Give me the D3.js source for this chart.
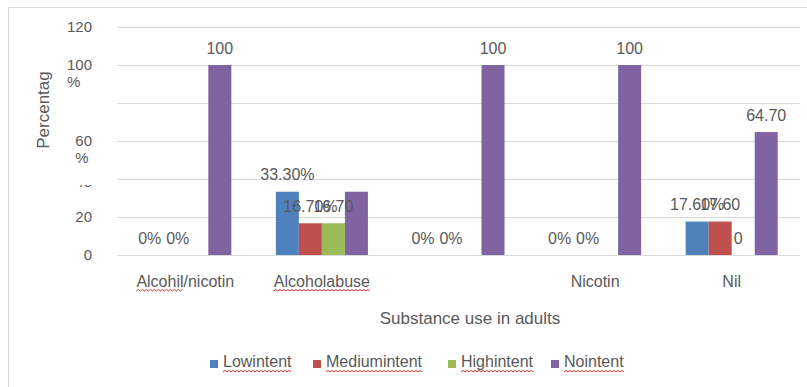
<!DOCTYPE html>
<html>
<head>
<meta charset="utf-8">
<script src="https://cdn.jsdelivr.net/npm/d3@7"></script>
<style>
  html, body { margin: 0; padding: 0; background: #fff; }
  svg { display: block; font-family: "Liberation Sans", Arial, sans-serif; }
</style>
</head>
<body>
<svg id="chart" width="807" height="387"></svg>
<script>
// Substance use categories (third category carries no visible label)
const categories = ["Alcohil/nicotin", "Alcoholabuse", "", "Nicotin", "Nil"];
const seriesNames = ["Lowintent", "Mediumintent", "Highintent", "Nointent"];
const seriesColors = ["#4F81BD", "#C0504D", "#9BBB59", "#8064A2"];

// Percentages per series
const lowIntent    = [0, 33.3, 0, 0, 17.6];
const mediumIntent = [0, 16.7, 0, 0, 17.6];
const highIntent   = [0, 16.7, 0, 0, 0];
const noIntent     = [100, 33.3, 100, 100, 64.7];

// Data labels as printed above each bar ("" = no label)
const lowLabels    = ["0%", "33.30%", "0%", "0%", "17.60%"];
const mediumLabels = ["0%", "16.70%", "0%", "0%", "17.60"];
const highLabels   = ["", "16.70", "", "", "0"];
const noLabels     = ["100", "", "100", "100", "64.70"];

// Y axis ticks and their printed text (lines split on "\n")
const yTicks      = [0, 20, 40, 60, 80, 100, 120];
const yTickLabels = ["0", "20", "40", "60\n%", "", "100\n%", "120"];

const allValues = [lowIntent, mediumIntent, highIntent, noIntent];
const allLabels = [lowLabels, mediumLabels, highLabels, noLabels];

const textColor = "#595959";
const gridColor = "#d9d9d9";

const svg = d3.select("#chart");

// Outer chart frame
svg.append("rect")
  .attr("x", 8.5).attr("y", 7.5)
  .attr("width", 900).attr("height", 500)
  .attr("fill", "#fff")
  .attr("stroke", gridColor);

const plot = { left: 117, right: 800, top: 27, bottom: 255 };

const x0 = d3.scaleBand()
  .domain(d3.range(categories.length))
  .range([plot.left, plot.right])
  .padding(0);

const bw = x0.bandwidth();
const x1 = d3.scaleBand()
  .domain(seriesNames)
  .range([bw * 0.163, bw * 0.837])
  .padding(0);

const y = d3.scaleLinear().domain([0, 120]).range([plot.bottom, plot.top]);

// Gridlines
svg.append("g")
  .selectAll("line")
  .data(yTicks)
  .join("line")
  .attr("x1", plot.left).attr("x2", plot.right)
  .attr("y1", d => Math.round(y(d)) + 0.5)
  .attr("y2", d => Math.round(y(d)) + 0.5)
  .attr("stroke", gridColor)
  .attr("stroke-width", 1);

// Y tick labels
const defs = svg.append("defs");
defs.append("clipPath").attr("id", "clip40")
  .append("rect").attr("x", 0).attr("y", 185).attr("width", 110).attr("height", 4);

const tickG = svg.append("g")
  .attr("font-size", 15)
  .attr("fill", textColor);

yTicks.forEach((t, i) => {
  const lines = yTickLabels[i].split("\n");
  if (!lines[0]) return;
  const first = tickG.append("text")
    .attr("x", 92)
    .attr("y", y(t) + (t === 40 ? 3 : 0))
    .attr("dy", "0.35em")
    .attr("text-anchor", "end")
    .text(lines[0]);
  if (t === 40) first.attr("clip-path", "url(#clip40)");
  if (lines.length > 1) {
    const w = first.node().getComputedTextLength();
    tickG.append("text")
      .attr("x", 92 - w)
      .attr("y", y(t) + 17)
      .attr("dy", "0.35em")
      .attr("text-anchor", "start")
      .text(lines[1]);
  }
});

// Bars
const groups = svg.append("g")
  .selectAll("g")
  .data(categories.map((c, i) => i))
  .join("g")
  .attr("transform", i => `translate(${x0(i)},0)`);

groups.selectAll("rect")
  .data(i => seriesNames.map((s, k) => ({ s, k, v: allValues[k][i] })))
  .join("rect")
  .attr("x", d => x1(d.s))
  .attr("width", x1.bandwidth())
  .attr("y", d => y(d.v))
  .attr("height", d => y(0) - y(d.v))
  .attr("fill", d => seriesColors[d.k]);

// Zero-height labels are nudged apart so neighbouring "0%" texts don't collide
function labelNudge(d) {
  if (d.v !== 0) return 0;
  if (d.k === 1) return 4;
  if (d.k === 2) return -5;
  return -1;
}

// Data labels
groups.selectAll("text")
  .data(i => seriesNames.map((s, k) => ({ s, k, v: allValues[k][i], label: allLabels[k][i] }))
    .filter(d => d.label !== ""))
  .join("text")
  .attr("x", d => x1(d.s) + x1.bandwidth() / 2 + labelNudge(d))
  .attr("y", d => y(d.v) - 17)
  .attr("dy", "0.35em")
  .attr("text-anchor", "middle")
  .attr("font-size", 16)
  .attr("fill", textColor)
  .text(d => d.label);

// Red wavy spell-check underline
function squiggle(x0p, x1p, yb) {
  let d = `M${x0p},${yb}`;
  let up = true;
  for (let xx = x0p + 2; xx <= x1p; xx += 2) {
    d += `L${xx},${yb + (up ? -1.6 : 0)}`;
    up = !up;
  }
  svg.append("path")
    .attr("d", d)
    .attr("fill", "none")
    .attr("stroke", "#d9332b")
    .attr("stroke-width", 1);
}

// Category labels
const catG = svg.append("g")
  .attr("font-size", 16)
  .attr("fill", textColor);

categories.forEach((c, i) => {
  if (!c) return;
  const t = catG.append("text")
    .attr("x", x0(i) + bw / 2)
    .attr("y", 287)
    .attr("text-anchor", "middle")
    .text(c);
  const box = t.node().getBBox();
  if (c === "Alcohil/nicotin") {
    const w = t.node().getSubStringLength(0, 7);
    squiggle(box.x, box.x + w, 291);
  } else if (c === "Alcoholabuse") {
    squiggle(box.x, box.x + box.width, 291);
  }
});

// Axis titles
svg.append("text")
  .attr("x", 470).attr("y", 318)
  .attr("dy", "0.35em")
  .attr("text-anchor", "middle")
  .attr("font-size", 17)
  .attr("fill", textColor)
  .text("Substance use in adults");

svg.append("text")
  .attr("transform", "translate(43,110) rotate(-90)")
  .attr("dy", "0.35em")
  .attr("text-anchor", "middle")
  .attr("font-size", 17)
  .attr("fill", textColor)
  .text("Percentag");

// Legend
const legendX = [210, 313, 448, 551];
const legend = svg.append("g");
seriesNames.forEach((s, k) => {
  legend.append("rect")
    .attr("x", legendX[k]).attr("y", 360)
    .attr("width", 8).attr("height", 8)
    .attr("fill", seriesColors[k]);
  const t = legend.append("text")
    .attr("x", legendX[k] + 13)
    .attr("y", 367)
    .attr("font-size", 16)
    .attr("fill", textColor)
    .text(s);
  const box = t.node().getBBox();
  squiggle(box.x, box.x + box.width, 372);
});
</script>
</body>
</html>
